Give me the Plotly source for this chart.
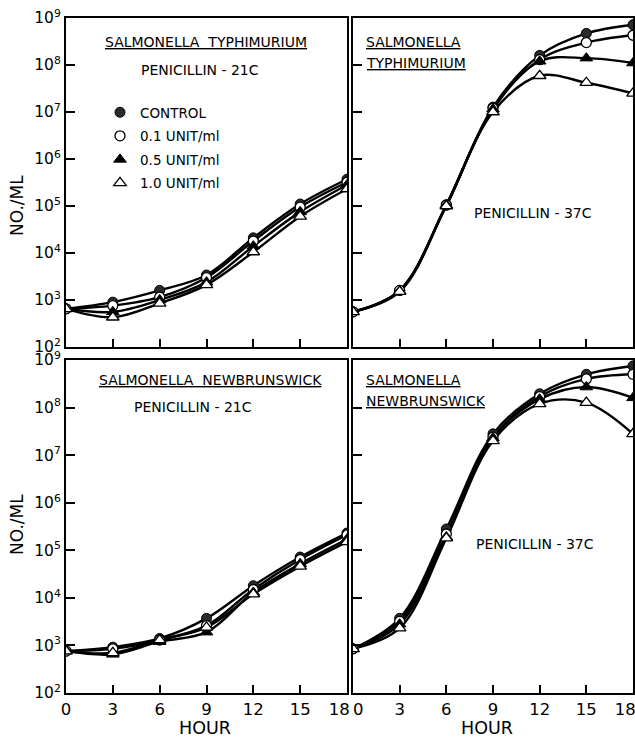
import plotly.graph_objects as go

hours = [0, 3, 6, 9, 12, 15, 18]
series_names = ["CONTROL", "0.1 UNIT/ml", "0.5 UNIT/ml", "1.0 UNIT/ml"]

# S. typhimurium, penicillin 21C
typh21_control = [650, 900, 1600, 3400, 21000, 110000, 370000]
typh21_01 = [650, 760, 1150, 3000, 18000, 95000, 320000]
typh21_05 = [650, 560, 1000, 2400, 14000, 75000, 280000]
typh21_10 = [650, 430, 850, 2100, 10500, 60000, 230000]

# S. typhimurium, penicillin 37C
typh37_control = [560, 1600, 105000, 1.27e7, 1.6e8, 4.7e8, 7.2e8]
typh37_01 = [560, 1600, 105000, 1.2e7, 1.3e8, 3.0e8, 4.3e8]
typh37_05 = [560, 1550, 105000, 1.15e7, 1.2e8, 1.4e8, 1.1e8]
typh37_10 = [560, 1500, 100000, 1.0e7, 5.9e7, 4.2e7, 2.5e7]

# S. newbrunswick, penicillin 21C
newb21_control = [760, 920, 1400, 3700, 18000, 72000, 230000]
newb21_01 = [760, 850, 1300, 2600, 15000, 64000, 210000]
newb21_05 = [760, 650, 1200, 1900, 13000, 52000, 170000]
newb21_10 = [760, 700, 1300, 2400, 12000, 46000, 150000]

# S. newbrunswick, penicillin 37C
newb37_control = [850, 3700, 280000, 2.8e7, 1.95e8, 5.0e8, 7.5e8]
newb37_01 = [850, 3200, 220000, 2.4e7, 1.7e8, 4.0e8, 5.0e8]
newb37_05 = [850, 2800, 190000, 2.3e7, 1.5e8, 2.7e8, 1.6e8]
newb37_10 = [850, 2300, 180000, 2.0e7, 1.2e8, 1.27e8, 2.8e7]

ytick_vals = [100, 1e3, 1e4, 1e5, 1e6, 1e7, 1e8, 1e9]
ytick_text = ["10<sup>2</sup>", "10<sup>3</sup>", "10<sup>4</sup>", "10<sup>5</sup>",
              "10<sup>6</sup>", "10<sup>7</sup>", "10<sup>8</sup>", "10<sup>9</sup>"]
xtick_text_left = ["0", "3", "6", "9", "12", "15", "18&nbsp;&nbsp;&nbsp;"]
xtick_text_right = ["&nbsp;&nbsp;0", "3", "6", "9", "12", "15", "18&nbsp;&nbsp;&nbsp;"]

FONT = "DejaVu Sans"

styles = [
    dict(symbol="circle", size=10, color="#2a2a2a", line=dict(color="black", width=1)),
    dict(symbol="circle", size=10, color="white", line=dict(color="black", width=1.3)),
    dict(symbol="triangle-up", size=11, color="black", line=dict(color="black", width=1)),
    dict(symbol="triangle-up", size=11, color="white", line=dict(color="black", width=1.3)),
]

panels = [
    ("x", "y", [typh21_control, typh21_01, typh21_05, typh21_10]),
    ("x2", "y2", [typh37_control, typh37_01, typh37_05, typh37_10]),
    ("x3", "y3", [newb21_control, newb21_01, newb21_05, newb21_10]),
    ("x4", "y4", [newb37_control, newb37_01, newb37_05, newb37_10]),
]

fig = go.Figure()

for xa, ya, data in panels:
    for vals in data:
        fig.add_trace(go.Scatter(
            x=hours, y=vals, xaxis=xa, yaxis=ya, mode="lines",
            line=dict(color="black", width=2.4, shape="spline", smoothing=1.0),
            showlegend=False, hoverinfo="skip"))
    for i, vals in enumerate(data):
        fig.add_trace(go.Scatter(
            x=hours, y=vals, xaxis=xa, yaxis=ya, mode="markers",
            marker=styles[i], showlegend=False, name=series_names[i]))

# legend-only traces
for i, name in enumerate(series_names):
    fig.add_trace(go.Scatter(
        x=[None], y=[None], xaxis="x", yaxis="y", mode="markers",
        marker=styles[i], name=name, showlegend=True, legendgroup=name))

W, H = 635, 737
xl = [66 / W, 347 / W]
xr = [353 / W, 633 / W]
yt = [1 - 347 / H, 1 - 18 / H]
yb = [1 - 693 / H, 1 - 360 / H]

def xaxis(domain, anchor, labels, texts=None):
    return dict(domain=domain, anchor=anchor, range=[0, 18], tickvals=hours,
                ticktext=texts, showticklabels=labels, automargin=False,
                ticklabeloverflow="allow",
                ticks="inside", ticklen=8, tickwidth=1.5, tickcolor="black",
                showline=True, mirror=True, linecolor="black", linewidth=2,
                showgrid=False, zeroline=False,
                tickfont=dict(family=FONT, size=16.5, color="black"))

def yaxis(domain, anchor, labels):
    return dict(domain=domain, anchor=anchor, type="log", range=[2, 9],
                tickvals=ytick_vals, ticktext=ytick_text if labels else None,
                showticklabels=labels, automargin=False, ticklabeloverflow="allow",
                ticks="inside", ticklen=9,
                tickwidth=1.5, tickcolor="black", showline=True, mirror=True,
                linecolor="black", linewidth=2, showgrid=False, zeroline=False,
                tickfont=dict(family=FONT, size=15.5, color="black"))

fig.update_layout(
    width=W, height=H, margin=dict(l=0, r=0, t=0, b=0, autoexpand=False),
    paper_bgcolor="white", plot_bgcolor="white",
    font=dict(family=FONT, color="black"),
    xaxis=xaxis(xl, "y", False),
    yaxis=yaxis(yt, "x", True),
    xaxis2=xaxis(xr, "y2", False),
    yaxis2=yaxis(yt, "x2", False),
    xaxis3=xaxis(xl, "y3", True, xtick_text_left),
    yaxis3=yaxis(yb, "x3", True),
    xaxis4=xaxis(xr, "y4", True, xtick_text_right),
    yaxis4=yaxis(yb, "x4", False),
    legend=dict(x=100 / W, y=1 - 97 / H, xanchor="left", yanchor="top",
                bgcolor="rgba(0,0,0,0)", font=dict(family=FONT, size=13.5),
                tracegroupgap=3, itemwidth=30),
)

def ann(text, x, y, xanchor="center", size=14, angle=0):
    fig.add_annotation(text=text, x=x / W, y=1 - y / H, xref="paper", yref="paper",
                       xanchor=xanchor, yanchor="middle", showarrow=False,
                       textangle=angle, font=dict(family=FONT, size=size, color="black"))

ann("<u>SALMONELLA  TYPHIMURIUM</u>", 206, 42)
ann("PENICILLIN - 21C", 200, 70)
ann("<u>SALMONELLA</u>", 364, 42, xanchor="left")
ann("<u>TYPHIMURIUM</u>", 364, 63, xanchor="left")
ann("PENICILLIN - 37C", 533, 213)
ann("<u>SALMONELLA  NEWBRUNSWICK</u>", 210, 380)
ann("PENICILLIN - 21C", 193, 407)
ann("<u>SALMONELLA</u>", 364, 380, xanchor="left")
ann("<u>NEWBRUNSWICK</u>", 364, 401, xanchor="left")
ann("PENICILLIN - 37C", 535, 544)
ann("NO./ML", 17, 206, size=17, angle=-90)
ann("NO./ML", 17, 525, size=17, angle=-90)
ann("HOUR", 205, 728, size=17.5)
ann("HOUR", 487, 728, size=17.5)

fig.write_html("out.html", config={"displayModeBar": False},
               post_script="document.body.style.margin='0px';")
